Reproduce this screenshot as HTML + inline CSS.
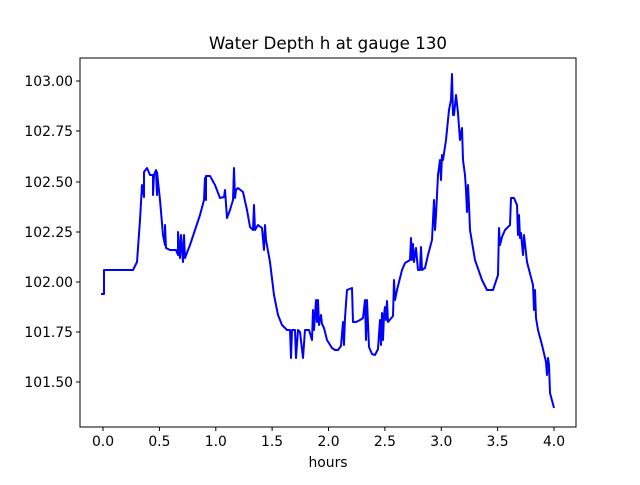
<!DOCTYPE html>
<html><head><meta charset="utf-8"><style>body{margin:0;background:#fff}</style></head><body>
<svg width="640" height="480" xmlns="http://www.w3.org/2000/svg" font-family="DejaVu Sans, sans-serif">
<rect width="640" height="480" fill="#fff"/>
<text x="328" y="49" font-size="16.7" text-anchor="middle">Water Depth h at gauge 130</text>
<polyline fill="none" stroke="#0000ff" stroke-width="2" stroke-linejoin="round" points="101,294 104,294 104,270 125,270 133,270 137,262 140,220 142,185 144,197 144,172 147,168 150,175 153,175 153,195 154,175 156,170 157,195 157,172 160,200 163,235 165,245 165,225 166,248 170,250 176,250 178,255 178,232 180,258 181,235 183,262 184,235 185,258 190,245 195,230 200,215 204,200 205,178 206,200 206,176 210,176 215,185 220,198 224,197 225,190 227,218 230,210 233,200 234,168 235,198 236,190 238,188 243,192 247,210 250,227 253,230 254,205 255,230 258,225 262,228 264,250 265,225 266,240 270,262 274,295 278,315 282,325 287,330 290,330 291,358 292,330 295,330 296,358 298,330 300,332 303,358 305,330 309,330 312,340 313,310 314,330 316,300 317,322 318,300 319,325 321,315 322,324 324,328 327,340 332,348 335,350 338,350 341,346 343,322 344,345 345,318 347,290 352,288 353,322 356,322 360,320 363,318 365,300 366,340 367,300 369,347 372,354 375,355 378,349 380,320 381,345 382,313 383,340 384,315 385,307 386,320 387,301 388,322 393,316 394,280 395,300 397,290 402,270 405,263 410,260 411,238 412,260 413,244 414,262 416,248 418,270 420,270 421,247 422,270 425,268 428,255 432,240 434,200 435,230 436,215 438,175 440,160 441,180 442,155 443,160 446,140 449,110 451,100 452,74 453,115 454,115 456,95 458,113 460,140 462,128 463,160 465,175 466,190 467,212 468,185 469,205 470,230 475,260 482,280 487,290 493,290 498,275 499,228 500,245 502,237 505,230 510,225 511,198 514,198 517,205 518,235 519,215 520,238 521,233 523,255 524,235 527,262 533,285 534,310 535,290 536,318 538,330 542,345 546,362 547,375 548,358 549,365 550,393 554,408"/>
<rect x="80" y="58" width="496" height="369" fill="none" stroke="#000" stroke-width="1"/>
<g stroke="#000" stroke-width="1">
<line x1="103" y1="427" x2="103" y2="431"/><line x1="159.4" y1="427" x2="159.4" y2="431"/><line x1="215.8" y1="427" x2="215.8" y2="431"/><line x1="272.1" y1="427" x2="272.1" y2="431"/><line x1="328.5" y1="427" x2="328.5" y2="431"/><line x1="384.9" y1="427" x2="384.9" y2="431"/><line x1="441.3" y1="427" x2="441.3" y2="431"/><line x1="497.6" y1="427" x2="497.6" y2="431"/><line x1="554" y1="427" x2="554" y2="431"/>
<line x1="76" y1="382" x2="80" y2="382"/><line x1="76" y1="332" x2="80" y2="332"/><line x1="76" y1="282" x2="80" y2="282"/><line x1="76" y1="232" x2="80" y2="232"/><line x1="76" y1="182" x2="80" y2="182"/><line x1="76" y1="131" x2="80" y2="131"/><line x1="76" y1="81" x2="80" y2="81"/>
</g>
<g font-size="13.9" text-anchor="middle">
<text x="103" y="446">0.0</text><text x="159.4" y="446">0.5</text><text x="215.8" y="446">1.0</text><text x="272.1" y="446">1.5</text><text x="328.5" y="446">2.0</text><text x="384.9" y="446">2.5</text><text x="441.3" y="446">3.0</text><text x="497.6" y="446">3.5</text><text x="554" y="446">4.0</text>
<text x="328" y="467">hours</text>
</g>
<g font-size="13.9" text-anchor="end">
<text x="73" y="387">101.50</text><text x="73" y="337">101.75</text><text x="73" y="287">102.00</text><text x="73" y="237">102.25</text><text x="73" y="187">102.50</text><text x="73" y="136">102.75</text><text x="73" y="86">103.00</text>
</g>
</svg>
</body></html>
